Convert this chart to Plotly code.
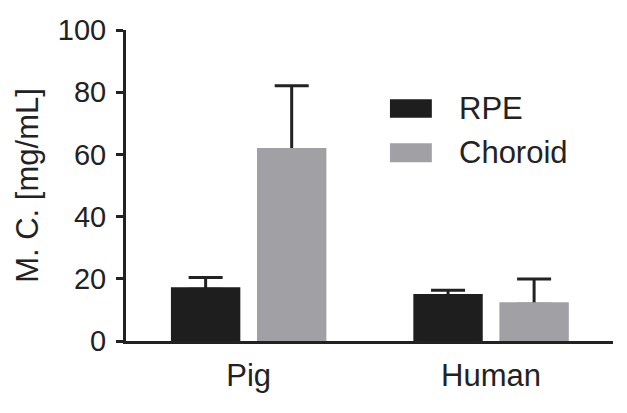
import plotly.graph_objects as go

categories = ["Pig", "Human"]
rpe_mean = [16.6, 14.5]
rpe_err = [3.8, 1.8]
choroid_mean = [61.4, 11.8]
choroid_err = [20.7, 8.1]
y_ticks = [0, 20, 40, 60, 80, 100]
series_names = ["RPE", "Choroid"]
series_colors = ["#1e1e1e", "#a1a1a5"]

FONT = "Liberation Sans, Arial, sans-serif"
INK = "#222222"

series = [(series_names[0], rpe_mean, rpe_err, series_colors[0]),
          (series_names[1], choroid_mean, choroid_err, series_colors[1])]

fig = go.Figure()
# bars with upward error whiskers
for name, mean, err, col in series:
    fig.add_trace(go.Bar(
        x=categories, y=mean, name=name, offsetgroup=name,
        marker=dict(color=col, line=dict(width=0)),
        error_y=dict(type="data", array=err, arrayminus=[0] * len(err), symmetric=False,
                     color=INK, thickness=3, width=17),
        showlegend=False,
    ))
# same bars drawn again on top to hide the lower whisker cap
for name, mean, err, col in series:
    fig.add_trace(go.Bar(
        x=categories, y=mean, name=name, offsetgroup=name,
        marker=dict(color=col, line=dict(width=4, color=col)),
        showlegend=False, hoverinfo="skip",
    ))

# legend drawn as swatches + text
legend_rows = [(0.777, 0.718, 0.747), (0.636, 0.575, 0.606)]
for (y1, y0, yt), name, col in zip(legend_rows, series_names, series_colors):
    fig.add_shape(type="rect", xref="paper", yref="paper", x0=0.542, x1=0.628, y0=y0, y1=y1,
                  fillcolor=col, line=dict(width=0))
    fig.add_annotation(xref="paper", yref="paper", x=0.679, y=yt, text=name, showarrow=False,
                       xanchor="left", yanchor="middle", font=dict(family=FONT, size=31, color=INK))

# page body has an 8px margin, so the figure is shrunk and shifted to compensate
fig.update_layout(
    width=619, height=405,
    margin=dict(l=118, r=14, t=22, b=72, autoexpand=False),
    paper_bgcolor="white", plot_bgcolor="white",
    barmode="group", bargap=0.29, bargroupgap=0.24,
    font=dict(family=FONT, color=INK),
)
fig.update_yaxes(
    range=[0, 100], tickvals=y_ticks, ticks="outside", ticklen=7, tickwidth=3, tickcolor=INK,
    showline=True, linewidth=3, linecolor=INK, showgrid=False, zeroline=False,
    tickfont=dict(family=FONT, size=29, color=INK), ticklabelstandoff=4,
    title=dict(text="M. C. [mg/mL]", font=dict(family=FONT, size=31, color=INK), standoff=10),
    automargin=False,
)
fig.update_xaxes(
    range=[-0.506, 1.503], showline=True, linewidth=3, linecolor=INK, ticks="",
    tickfont=dict(family=FONT, size=31, color=INK), ticklabelstandoff=5, showgrid=False,
    automargin=False,
)
fig.write_html("out.html")
